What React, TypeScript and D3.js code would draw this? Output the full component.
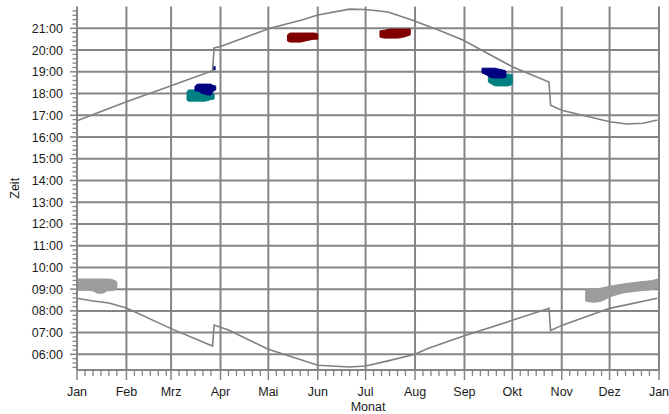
import React from "react";
import * as d3 from "d3";

// ---------- data ----------
const monthLabels = ["Jan", "Feb", "Mrz", "Apr", "Mai", "Jun", "Jul", "Aug", "Sep", "Okt", "Nov", "Dez", "Jan"];
const hourTicks = [6, 7, 8, 9, 10, 11, 12, 13, 14, 15, 16, 17, 18, 19, 20, 21];
const minorDays = [6, 11, 16, 21, 26];

// sunset line [date, time]
const sunset: [string, string][] = [
  ["01-01", "16:45"], ["02-01", "17:37"], ["02-26", "18:17"], ["03-27", "19:03"],
  ["03-28", "20:06"], ["04-01", "20:10"], ["05-02", "21:00"], ["05-22", "21:23"],
  ["06-01", "21:37"], ["06-21", "21:53"], ["07-01", "21:52"], ["07-15", "21:45"],
  ["07-30", "21:23"], ["08-16", "20:55"], ["08-31", "20:28"], ["10-01", "19:14"],
  ["10-24", "18:32"], ["10-25", "17:28"], ["11-01", "17:14"], ["12-01", "16:42"],
  ["12-12", "16:36"], ["12-22", "16:38"], ["12-31", "16:47"],
];

// sunrise line [date, time]
const sunrise: [string, string][] = [
  ["01-01", "08:35"], ["01-10", "08:28"], ["01-21", "08:22"], ["02-01", "08:08"],
  ["03-01", "07:11"], ["03-27", "06:23"], ["03-28", "07:21"], ["04-06", "07:07"],
  ["05-01", "06:14"], ["06-01", "05:30"], ["06-21", "05:25"], ["07-01", "05:28"],
  ["07-15", "05:42"], ["08-01", "06:00"], ["08-09", "06:16"], ["08-31", "06:50"],
  ["10-01", "07:34"], ["10-24", "08:07"], ["10-25", "07:06"], ["11-01", "07:20"],
  ["12-01", "08:07"], ["12-31", "08:35"],
];

// observation bands [date, upper time, lower time]
const grayJan: [string, string, string][] = [
  ["01-01", "09:28", "08:57"], ["01-06", "09:28", "08:57"], ["01-11", "09:28", "08:55"],
  ["01-14", "09:28", "08:49"], ["01-17", "09:28", "08:49"], ["01-20", "09:28", "08:55"],
  ["01-24", "09:25", "08:57"], ["01-26", "09:20", "09:03"],
];
const grayDec: [string, string, string][] = [
  ["11-16", "08:57", "08:27"], ["11-21", "09:00", "08:24"], ["11-26", "09:03", "08:27"],
  ["12-01", "09:08", "08:38"], ["12-05", "09:11", "08:44"], ["12-09", "09:14", "08:49"],
  ["12-14", "09:17", "08:52"], ["12-19", "09:20", "08:55"], ["12-24", "09:22", "08:57"],
  ["12-29", "09:25", "09:00"], ["12-31", "09:28", "09:03"],
];
const tealSpring: [string, string, string][] = [
  ["03-11", "18:04", "17:42"], ["03-12", "18:10", "17:39"], ["03-15", "18:10", "17:39"],
  ["03-17", "18:10", "17:39"], ["03-20", "18:04", "17:39"], ["03-22", "17:59", "17:39"],
  ["03-25", "17:59", "17:42"], ["03-28", "17:59", "17:45"],
];
const navySpring: [string, string, string][] = [
  ["03-16", "18:20", "18:07"], ["03-18", "18:26", "18:07"], ["03-20", "18:26", "18:01"],
  ["03-22", "18:26", "17:59"], ["03-24", "18:26", "17:56"], ["03-26", "18:26", "17:56"],
  ["03-27", "18:23", "18:04"], ["03-29", "18:21", "18:10"],
];
const navyDot: [string, string][] = [["03-28", "19:10"]];
const redMay: [string, string, string][] = [
  ["05-13", "20:42", "20:25"], ["05-15", "20:47", "20:22"], ["05-18", "20:47", "20:22"],
  ["05-21", "20:47", "20:22"], ["05-24", "20:47", "20:25"], ["05-27", "20:47", "20:28"],
  ["05-30", "20:47", "20:30"], ["06-01", "20:44", "20:30"],
];
const redJul: [string, string, string][] = [
  ["07-10", "20:53", "20:36"], ["07-13", "20:55", "20:33"], ["07-17", "20:58", "20:33"],
  ["07-21", "20:58", "20:33"], ["07-25", "20:58", "20:36"], ["07-29", "20:58", "20:42"],
];
const tealAutumn: [string, string, string][] = [
  ["09-16", "18:51", "18:32"], ["09-18", "18:51", "18:26"], ["09-21", "18:51", "18:21"],
  ["09-23", "18:51", "18:21"], ["09-26", "18:54", "18:21"], ["09-28", "18:54", "18:21"],
  ["10-01", "18:51", "18:26"],
];
const navyAutumn: [string, string, string][] = [
  ["09-12", "19:10", "18:57"], ["09-15", "19:10", "18:51"], ["09-17", "19:10", "18:45"],
  ["09-20", "19:10", "18:43"], ["09-22", "19:08", "18:43"], ["09-25", "19:05", "18:43"],
  ["09-27", "19:02", "18:45"],
];

// ---------- helpers ----------
const YEAR = 2015;
const pd = (s: string) => {
  const [m, d] = s.split("-").map(Number);
  return new Date(YEAR, m - 1, d);
};
const th = (s: string) => {
  const [h, m] = s.split(":").map(Number);
  return h + m / 60;
};
const pad = (n: number) => (n < 10 ? "0" + n : "" + n);

const W = 669;
const H = 414;
const L = 77;
const R = 659;
const T = 6.6;
const B = 370;

const GRID = "#858585";
const FONT = "'Liberation Sans', Arial, sans-serif";

export default function App() {
  const x = d3.scaleTime().domain([new Date(YEAR, 0, 1), new Date(YEAR + 1, 0, 1)]).range([L, R]);
  const y = d3.scaleLinear().domain([5.28, 22]).range([B, T]);

  const months = d3.timeMonth.range(new Date(YEAR, 0, 1), new Date(YEAR + 1, 0, 2));
  const minorX: Date[] = [];
  months.slice(0, 12).forEach((m) => minorDays.forEach((d) => minorX.push(new Date(YEAR, m.getMonth(), d))));

  const minorY: number[] = [];
  for (let v = 22; v >= 5.28 - 1e-9; v -= 0.2) {
    const r = Math.round(v * 10) / 10;
    if (Math.abs(r - Math.round(r)) > 1e-6) minorY.push(r);
  }

  const line = d3
    .line<[string, string]>()
    .x((d) => x(pd(d[0])))
    .y((d) => y(th(d[1])));

  const area = d3
    .area<[string, string, string]>()
    .x((d) => x(pd(d[0])))
    .y0((d) => y(th(d[2])))
    .y1((d) => y(th(d[1])))
    .curve(d3.curveMonotoneX);

  const bands: { data: [string, string, string][]; color: string }[] = [
    { data: grayJan, color: "#9c9c9c" },
    { data: grayDec, color: "#9c9c9c" },
    { data: tealSpring, color: "#008080" },
    { data: navySpring, color: "#000080" },
    { data: redMay, color: "#800000" },
    { data: redJul, color: "#800000" },
    { data: tealAutumn, color: "#008080" },
    { data: navyAutumn, color: "#000080" },
  ];

  return (
    <svg
      width={W}
      height={H}
      style={{ position: "absolute", left: 0, top: 0, background: "#fff" }}
      fontFamily={FONT}
    >
      {/* horizontal grid */}
      {hourTicks.map((h) => (
        <line key={"hg" + h} x1={L} x2={R + 1} y1={y(h)} y2={y(h)} stroke={GRID} strokeWidth={2} />
      ))}
      {/* vertical grid */}
      {months.slice(1).map((m, i) => (
        <line key={"vg" + i} x1={x(m)} x2={x(m)} y1={T} y2={B} stroke={GRID} strokeWidth={2} />
      ))}

      {/* observation bands */}
      {bands.map((b, i) => (
        <path key={"b" + i} d={area(b.data) || ""} fill={b.color} stroke={b.color} strokeWidth={1} />
      ))}
      {navyDot.map((d, i) => (
        <rect key={"dot" + i} x={x(pd(d[0])) - 1.5} y={y(th(d[1])) - 2} width={3} height={4} fill="#000080" />
      ))}

      {/* sun lines */}
      <path d={line(sunset) || ""} fill="none" stroke="#808080" strokeWidth={1.6} />
      <path d={line(sunrise) || ""} fill="none" stroke="#808080" strokeWidth={1.6} />

      {/* y axis */}
      <line x1={L} x2={L} y1={T} y2={B} stroke={GRID} strokeWidth={2} />
      {hourTicks.map((h) => (
        <g key={"yt" + h}>
          <line x1={L - 7} x2={L} y1={y(h)} y2={y(h)} stroke={GRID} strokeWidth={1.5} />
          <text x={63} y={y(h) + 4.5} textAnchor="end" fontSize={12.5} fill="#1a1a1a">
            {pad(h) + ":00"}
          </text>
        </g>
      ))}
      {minorY.map((v, i) => (
        <line key={"ym" + i} x1={L - 4.5} x2={L} y1={y(v)} y2={y(v)} stroke={GRID} strokeWidth={1.3} />
      ))}

      {/* x axis */}
      <line x1={L} x2={R + 1} y1={B} y2={B} stroke={GRID} strokeWidth={2} />
      {months.map((m, i) => (
        <g key={"xt" + i}>
          <line x1={x(m)} x2={x(m)} y1={B} y2={B + 10} stroke={GRID} strokeWidth={1.5} />
          <text x={x(m)} y={396} textAnchor="middle" fontSize={12.5} fill="#1a1a1a">
            {monthLabels[i]}
          </text>
        </g>
      ))}
      {minorX.map((d, i) => (
        <line key={"xm" + i} x1={x(d)} x2={x(d)} y1={B} y2={B + 6} stroke={GRID} strokeWidth={1.3} />
      ))}

      {/* axis titles */}
      <text x={368} y={411} textAnchor="middle" fontSize={12.5} fill="#1a1a1a">
        Monat
      </text>
      <text
        transform={`translate(19,${(T + B) / 2}) rotate(-90)`}
        textAnchor="middle"
        fontSize={12.5}
        fill="#1a1a1a"
      >
        Zeit
      </text>
    </svg>
  );
}
